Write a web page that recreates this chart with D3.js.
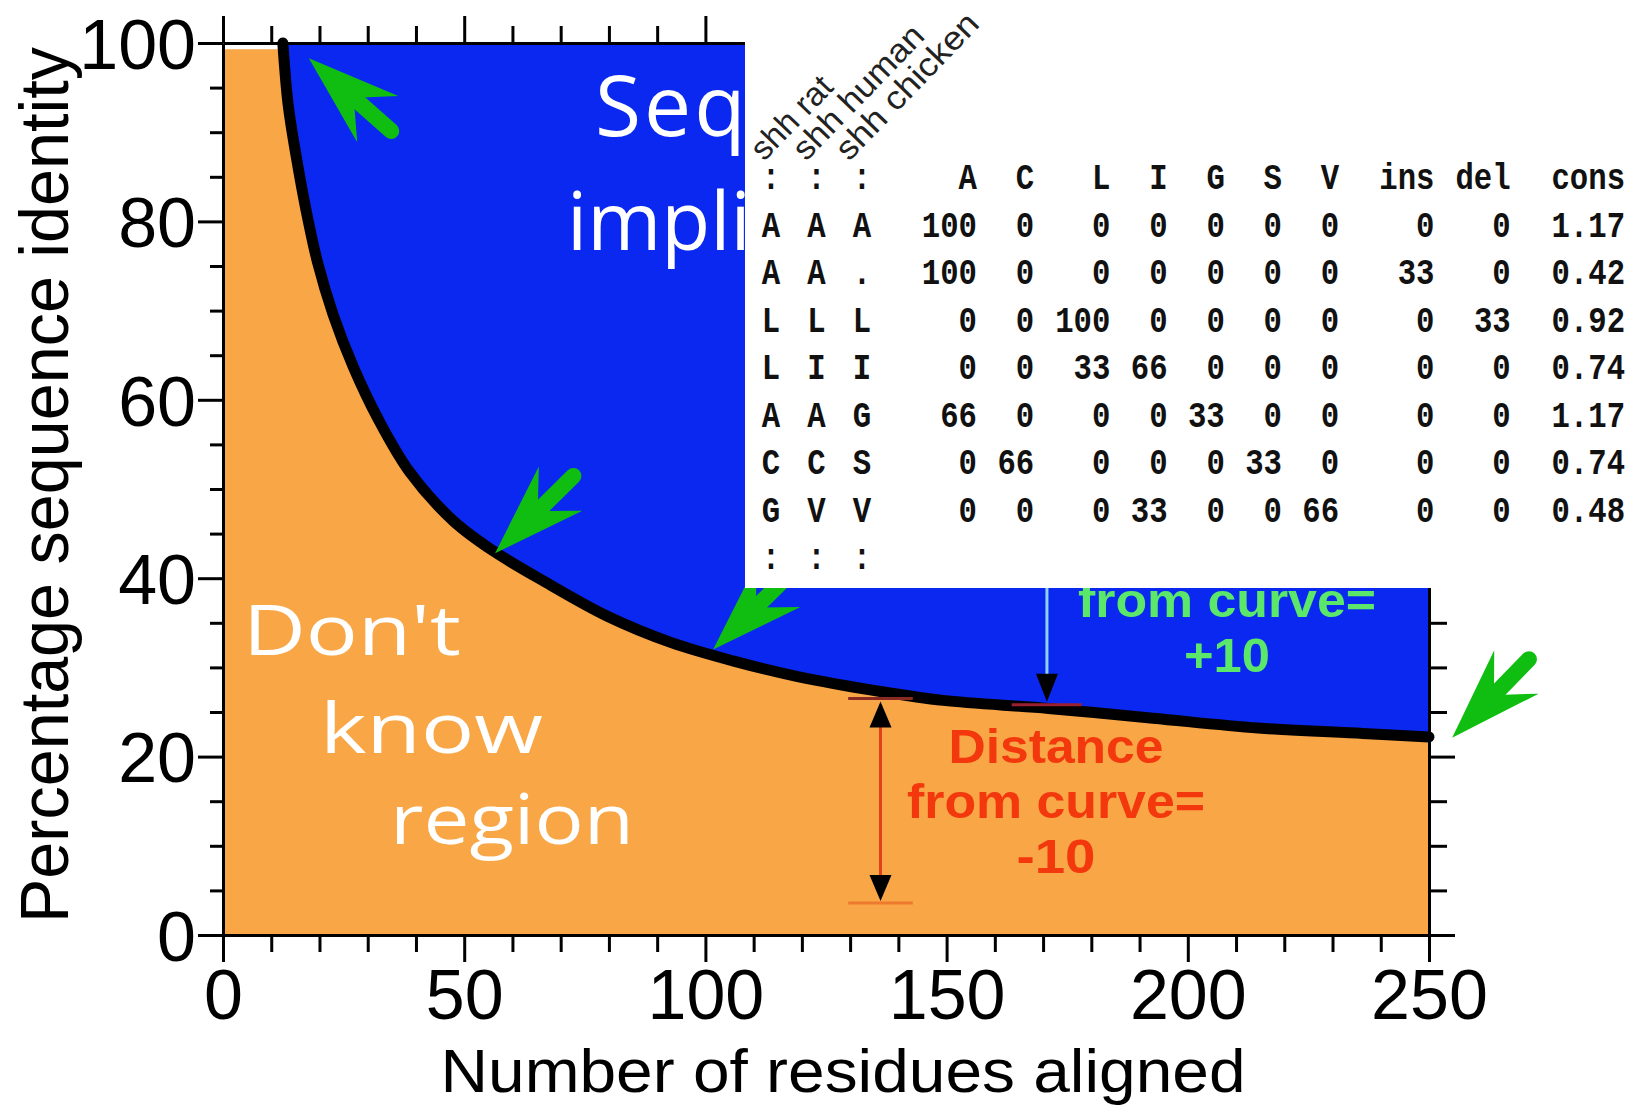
<!DOCTYPE html>
<html>
<head>
<meta charset="utf-8">
<script src="https://cdn.jsdelivr.net/npm/d3@7"></script>
<style>
body { margin: 0; background: #fff; }
svg { display: block; }
</style>
</head>
<body>
<svg id="chart" width="1644" height="1106"></svg>
<script>
// threshold curve: residues aligned -> % identity
var curve_len = [12.4, 13.5, 15.2, 17.2, 19.6, 22.8, 27.0, 32.2, 38.7, 47.8, 55.9, 66.7, 79.8, 92.8, 105.9, 118.9, 136.3, 149.3, 171.1, 192.8, 214.6, 236.3, 250];
var curve_pid = [100, 93.1, 87.2, 81.3, 75.4, 69.6, 63.7, 57.8, 51.9, 46.4, 43.1, 39.6, 35.7, 32.8, 30.7, 29.0, 27.3, 26.3, 25.4, 24.3, 23.2, 22.6, 22.2];

var x_ticks = d3.range(0, 251, 10);
var y_ticks = d3.range(0, 101, 5);

// green arrows: tip (residues, %identity)
var arrow_len = [17.8, 56.4, 101.6, 254.8];
var arrow_pid = [98.3, 42.8, 32.0, 22.1];

// distance markers
var neg_marker = [136.3, 26.3, 3.6];   // residues, upper %, lower %
var pos_marker = [170.8, 25.8];        // residues, % at curve

var region_words = ["Don't", 'know', 'region'];
var seq_words = ['Seq', 'impli'];      // only the part not hidden by the table
var neg_words = ['Distance', 'from curve=', '-10'];
var pos_words = ['from curve=', '+10'];

// alignment profile table
var seq_names = ['shh rat', 'shh human', 'shh chicken'];
var profile_cols = ['A', 'C', 'L', 'I', 'G', 'S', 'V', 'ins', 'del', 'cons'];
var aln_rows = [['A', 'A', 'A'], ['A', 'A', '.'], ['L', 'L', 'L'], ['L', 'I', 'I'], ['A', 'A', 'G'], ['C', 'C', 'S'], ['G', 'V', 'V']];
var profile_vals = [
    [100, 0, 0, 0, 0, 0, 0, 0, 0, 1.17],
    [100, 0, 0, 0, 0, 0, 0, 33, 0, 0.42],
    [0, 0, 100, 0, 0, 0, 0, 0, 33, 0.92],
    [0, 0, 33, 66, 0, 0, 0, 0, 0, 0.74],
    [66, 0, 0, 0, 33, 0, 0, 0, 0, 1.17],
    [0, 66, 0, 0, 0, 33, 0, 0, 0, 0.74],
    [0, 0, 0, 33, 0, 0, 66, 0, 0, 0.48]
];

var W = 1644, H = 1106;
var sans = '"Liberation Sans", Arial, Helvetica, sans-serif';
var svg = d3.select('#chart');

var x = d3.scaleLinear().domain([0, 250]).range([223, 1429]);
var y = d3.scaleLinear().domain([0, 100]).range([935, 43]);

var pts = curve_len.map(function(d, i) { return [d, curve_pid[i]]; });
var smooth = d3.curveCatmullRom.alpha(0.5);

// orange "don't know" background
svg.append('rect')
    .attr('x', x(0))
    .attr('y', y(99.3))
    .attr('width', x(250) - x(0))
    .attr('height', y(0) - y(99.3))
    .attr('fill', '#F8A646');

// blue region above the curve
svg.append('path')
    .datum(pts)
    .attr('fill', '#0A28EF')
    .attr('d', d3.area()
        .x(function(d) { return x(d[0]); })
        .y0(function(d) { return y(d[1]); })
        .y1(y(100))
        .curve(smooth));

// big white label, cut by the table panel
svg.append('g')
    .selectAll('text')
    .data(seq_words)
    .enter()
    .append('text')
    .attr('x', function(d, i) { return i == 0 ? 595 : 567; })
    .attr('y', function(d, i) { return i == 0 ? 136 : 250; })
    .attr('font-family', '"Open Sans", sans-serif')
    .attr('font-size', function(d, i) { return i == 0 ? 84 : 80; })
    .attr('letter-spacing', function(d, i) { return i == 0 ? 3 : 0; })
    .attr('fill', '#fff')
    .text(function(d) { return d; });

// don't know region
var region_x = [243, 320, 390];
var region_y = [655, 753, 844];
var region_w = [218, 223, 244];
svg.append('g')
    .selectAll('text')
    .data(region_words)
    .enter()
    .append('text')
    .attr('x', function(d, i) { return region_x[i]; })
    .attr('y', function(d, i) { return region_y[i]; })
    .attr('textLength', function(d, i) { return region_w[i]; })
    .attr('lengthAdjust', 'spacingAndGlyphs')
    .attr('font-family', '"Open Sans", sans-serif')
    .attr('font-size', 70)
    .attr('fill', '#fff')
    .text(function(d) { return d; });

// the curve itself
svg.append('path')
    .datum(pts)
    .attr('fill', 'none')
    .attr('stroke', '#000')
    .attr('stroke-width', 11)
    .attr('stroke-linecap', 'round')
    .attr('stroke-linejoin', 'round')
    .attr('d', d3.line()
        .x(function(d) { return x(d[0]); })
        .y(function(d) { return y(d[1]); })
        .curve(smooth));

// -10 marker (orange region)
var nx = x(neg_marker[0]), ny1 = y(neg_marker[1]), ny2 = y(neg_marker[2]);
svg.append('line')
    .attr('x1', nx).attr('x2', nx).attr('y1', ny1 + 20).attr('y2', ny2 - 20)
    .attr('stroke', '#E2401C').attr('stroke-width', 3);
svg.append('line')
    .attr('x1', x(129.6)).attr('x2', x(143)).attr('y1', ny1 - 2).attr('y2', ny1 - 2)
    .attr('stroke', '#8A2A22').attr('stroke-width', 3);
svg.append('line')
    .attr('x1', x(129.6)).attr('x2', x(143)).attr('y1', ny2).attr('y2', ny2)
    .attr('stroke', '#EE7A2E').attr('stroke-width', 3);
svg.append('path')
    .attr('d', 'M' + nx + ',' + (ny1 + 1) + 'l-11,26h22z')
    .attr('fill', '#000');
svg.append('path')
    .attr('d', 'M' + nx + ',' + (ny2 - 2) + 'l-11,-26h22z')
    .attr('fill', '#000');

// +10 marker (blue region)
var px = x(pos_marker[0]), py = y(pos_marker[1]);
svg.append('line')
    .attr('x1', px).attr('x2', px).attr('y1', 560).attr('y2', py - 30)
    .attr('stroke', '#8FD2EE').attr('stroke-width', 3);
svg.append('path')
    .attr('d', 'M' + px + ',' + (py - 3) + 'l-11,-28h22z')
    .attr('fill', '#000');
svg.append('line')
    .attr('x1', x(163.5)).attr('x2', x(178)).attr('y1', py).attr('y2', py)
    .attr('stroke', '#9A2030').attr('stroke-width', 3);

// red and green labels
var bold_w = {'Distance': 215, 'from curve=': 298, '-10': 79, '+10': 86};
var line_gap = 55;
function label_block(words, cx, cy, color) {
    svg.append('g')
        .selectAll('text')
        .data(words)
        .enter()
        .append('text')
        .attr('x', cx)
        .attr('y', function(d, i) { return cy + i * line_gap; })
        .attr('text-anchor', 'middle')
        .attr('textLength', function(d) { return bold_w[d]; })
        .attr('lengthAdjust', 'spacingAndGlyphs')
        .attr('font-family', sans)
        .attr('font-weight', 'bold')
        .attr('font-size', 49)
        .attr('fill', color)
        .text(function(d) { return d; });
}
label_block(neg_words, 1056, 763, '#F2380C');
label_block(pos_words, 1227, 617, '#5BE86A');

// green arrows
var arrow_angle = [41.5, -44.6, -44.6, -45.7];
var arrows = svg.append('g')
    .selectAll('g')
    .data(arrow_len)
    .enter()
    .append('g')
    .attr('transform', function(d, i) {
        return 'translate(' + x(d) + ',' + y(arrow_pid[i]) + ') rotate(' + arrow_angle[i] + ')';
    });
arrows.append('path')
    .attr('d', 'M0,0L92,-31L62,-2L62,2L92,31Z')
    .attr('fill', '#10BE12');
arrows.append('line')
    .attr('x1', 56).attr('x2', 110).attr('y1', 0).attr('y2', 0)
    .attr('stroke', '#10BE12')
    .attr('stroke-width', 16)
    .attr('stroke-linecap', 'round');

// axes
function style_axis(g) {
    g.attr('font-family', sans).attr('font-size', 70);
    g.select('.domain').attr('stroke', '#000').attr('stroke-width', 3);
    g.selectAll('.tick line').attr('stroke', '#000').attr('stroke-width', 3);
    g.selectAll('.tick text').attr('fill', '#000');
}

var gb = svg.append('g')
    .attr('transform', 'translate(0,' + y(0) + ')')
    .call(d3.axisBottom(x).tickValues(x_ticks).tickSizeOuter(0)
        .tickFormat(function(d) { return d % 50 === 0 ? d : ''; }));
style_axis(gb);
gb.selectAll('.tick line').attr('y2', function(d) { return d % 50 === 0 ? 27 : 17; });
gb.selectAll('.tick text').attr('y', 84).attr('dy', 0);

var gt = svg.append('g')
    .attr('transform', 'translate(0,' + y(100) + ')')
    .call(d3.axisTop(x).tickValues(x_ticks).tickSizeOuter(0).tickFormat(''));
style_axis(gt);
gt.selectAll('.tick line').attr('y2', function(d) { return d % 50 === 0 ? -27 : -17; });

var gl = svg.append('g')
    .attr('transform', 'translate(' + x(0) + ',0)')
    .call(d3.axisLeft(y).tickValues(y_ticks).tickSizeOuter(0)
        .tickFormat(function(d) { return d % 20 === 0 ? d : ''; }));
style_axis(gl);
gl.selectAll('.tick line').attr('x2', function(d) { return d % 20 === 0 ? -25 : -13; });
gl.selectAll('.tick text').attr('x', -27).attr('dy', '0.36em');

var gr = svg.append('g')
    .attr('transform', 'translate(' + x(250) + ',0)')
    .call(d3.axisRight(y).tickValues(y_ticks).tickSizeOuter(0).tickFormat(''));
style_axis(gr);
gr.selectAll('.tick line').attr('x2', function(d) { return d % 20 === 0 ? 26 : 18; });

// axis titles
svg.append('text')
    .attr('x', 843)
    .attr('y', 1092)
    .attr('text-anchor', 'middle')
    .attr('textLength', 805)
    .attr('lengthAdjust', 'spacingAndGlyphs')
    .attr('font-family', sans)
    .attr('font-size', 62)
    .text('Number of residues aligned');
svg.append('text')
    .attr('transform', 'translate(68,485) rotate(-90)')
    .attr('text-anchor', 'middle')
    .attr('textLength', 876)
    .attr('lengthAdjust', 'spacingAndGlyphs')
    .attr('font-family', sans)
    .attr('font-size', 68)
    .text('Percentage sequence identity');

// profile table on white panel
svg.append('rect')
    .attr('x', 745).attr('y', 0)
    .attr('width', W - 745).attr('height', 588)
    .attr('fill', '#fff');

var seq_x = d3.scalePoint().domain([0, 1, 2]).range([771, 862]);
var row_y = d3.scaleLinear().domain([0, 8]).range([189, 569]);
var col_chars = [0, 3, 4, 3, 3, 3, 3, 5, 4, 6];
var char_w = 19.06;
var col_right = [];
col_chars.reduce(function(acc, c) { acc += c; col_right.push(977 + acc * char_w); return acc; }, 0);

var name_w = [102, 173, 190];
var name_x = [764, 806, 849];
svg.append('g')
    .selectAll('text')
    .data(seq_names)
    .enter()
    .append('text')
    .attr('transform', function(d, i) { return 'translate(' + name_x[i] + ',162) rotate(-46)'; })
    .attr('textLength', function(d, i) { return name_w[i]; })
    .attr('lengthAdjust', 'spacingAndGlyphs')
    .attr('font-family', sans)
    .attr('font-size', 33)
    .attr('fill', '#222')
    .text(function(d) { return d; });

var tbl = svg.append('g')
    .attr('font-family', '"Liberation Mono", "Courier New", monospace')
    .attr('font-weight', 'bold')
    .attr('font-size', 36)
    .attr('fill', '#111');

function cell(txt, cx, cy, anchor) {
    txt = String(txt);
    tbl.append('text')
        .attr('x', cx)
        .attr('y', cy)
        .attr('text-anchor', anchor)
        .attr('textLength', txt.length * 18.4)
        .attr('lengthAdjust', 'spacingAndGlyphs')
        .text(txt);
}

[0, 8].forEach(function(r) {
    seq_names.forEach(function(d, i) { cell(':', seq_x(i), row_y(r), 'middle'); });
});
profile_cols.forEach(function(c, j) { cell(c, col_right[j], row_y(0), 'end'); });

aln_rows.forEach(function(row, r) {
    row.forEach(function(a, i) { cell(a, seq_x(i), row_y(r + 1), 'middle'); });
    profile_vals[r].forEach(function(v, j) {
        cell(j === 9 ? d3.format('.2f')(v) : v, col_right[j], row_y(r + 1), 'end');
    });
});
</script>
</body>
</html>
